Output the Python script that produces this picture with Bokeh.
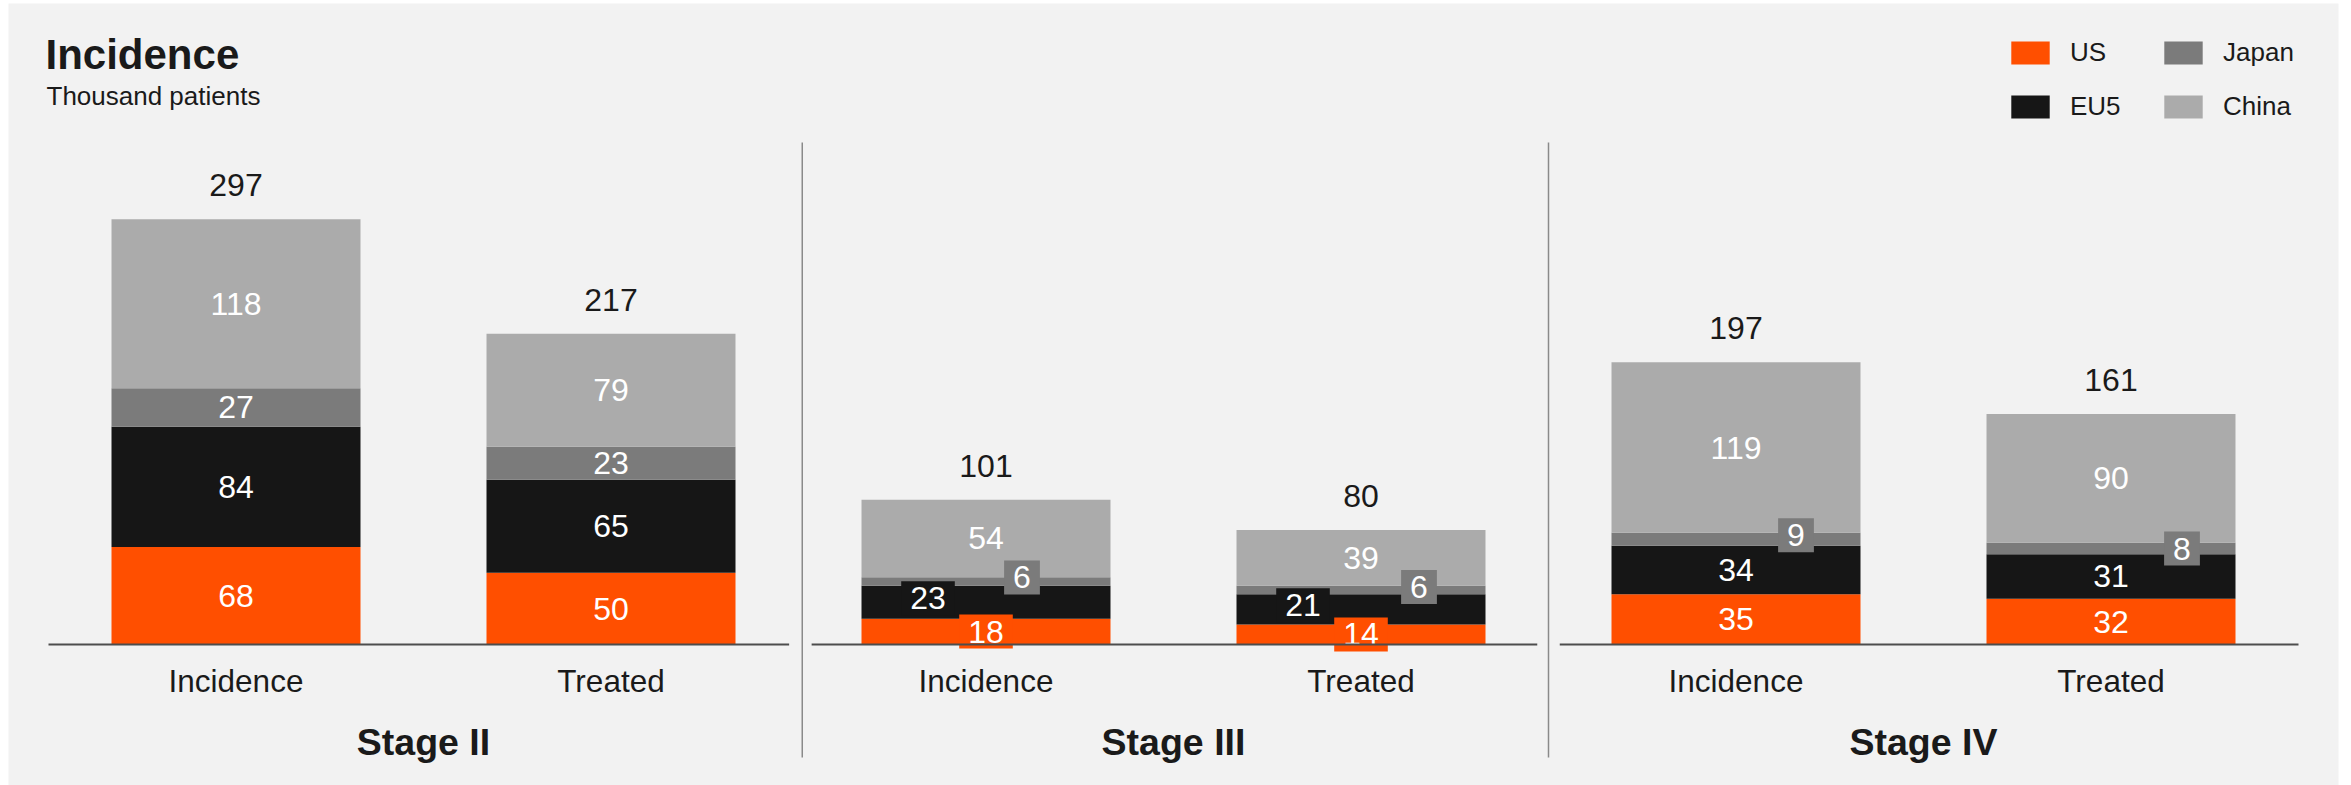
from bokeh.plotting import figure
from bokeh.models import (ColumnDataSource, FactorRange, Range1d, CategoricalAxis,
                          Legend, LegendItem, Label)
from bokeh.core.properties import value
from bokeh.embed import file_html
from bokeh.resources import INLINE

# ---------------- data ----------------
stages = ["Stage II", "Stage III", "Stage IV"]
measures = ["Incidence", "Treated"]
series = ["US", "EU5", "Japan", "China"]
us = [68, 50, 18, 14, 35, 32]
eu5 = [84, 65, 23, 21, 34, 31]
japan = [27, 23, 6, 6, 9, 8]
china = [118, 79, 54, 39, 119, 90]
totals = [297, 217, 101, 80, 197, 161]
title_text = "Incidence"
subtitle_text = "Thousand patients"

# ---------------- style ----------------
colors = {"US": "#FF4F00", "EU5": "#161616", "Japan": "#7B7B7B", "China": "#ABABAB"}
BG = "#F2F2F2"
INK = "#1A1A1A"
FONT = "Liberation Sans"
BOX_BELOW = 20  # segments smaller than this get a boxed label
# label nudges (pixels) for crowded small segments: (bar index, series) -> (dx, dy)
label_nudge = {
    (2, "EU5"): (-58, -4), (3, "EU5"): (-58, -4),
    (2, "Japan"): (36, -4), (3, "Japan"): (58, -3),
    (4, "Japan"): (60, -4), (5, "Japan"): (71, 0),
}

factors = [(s, m) for s in stages for m in measures]
values = {"US": us, "EU5": eu5, "Japan": japan, "China": china}

W, H = 2351, 785
p = figure(width=W, height=H,
           x_range=FactorRange(*factors, factor_padding=0, group_padding=0,
                               range_padding=40 / 375, range_padding_units="absolute"),
           y_range=Range1d(-98.5, 447.6),
           x_axis_location=None, y_axis_location=None,
           toolbar_location=None, tools="", output_backend="svg",
           min_border_left=8, min_border_top=3, min_border_right=13, min_border_bottom=0,
           background_fill_color=BG, border_fill_color="white",
           outline_line_color=None)
p.grid.visible = False

src = ColumnDataSource(dict(x=factors, US=us, EU5=eu5, Japan=japan, China=china))
renderers = p.vbar_stack(series, x="x", width=0.664, source=src,
                         fill_color=[colors[s] for s in series], line_color=None)

# segment labels
lx, ly, lt, lbg, lba, ldx, ldy = [], [], [], [], [], [], []
for i, f in enumerate(factors):
    base = 0
    for s in series:
        v = values[s][i]
        nudged = (i, s) in label_nudge
        lx.append(f)
        ly.append(base + v / 2)
        lt.append(str(v))
        lbg.append(colors[s])
        lba.append(1.0 if (v < BOX_BELOW or nudged) else 0.0)
        dx, dy = label_nudge.get((i, s), (0, 0))
        ldx.append(dx)
        ldy.append(dy)
        base += v
lsrc = ColumnDataSource(dict(x=lx, y=ly, text=lt, bg=lbg, ba=lba, dx=ldx, dy=ldy))
p.text(x="x", y="y", text="text", source=lsrc, x_offset="dx", y_offset="dy",
       text_align="center", text_baseline="middle", text_color="white",
       text_font=value(FONT), text_font_size="32px",
       background_fill_color="bg", background_fill_alpha="ba",
       padding=dict(left=9, right=9, top=6, bottom=6))

# totals
tsrc = ColumnDataSource(dict(x=factors, y=totals, text=[str(t) for t in totals]))
p.text(x="x", y="y", text="text", source=tsrc, y_offset=-34,
       text_align="center", text_baseline="middle", text_color=INK,
       text_font=value(FONT), text_font_size="32px")

# baseline segments per panel and dividers
p.segment(x0=[0, 2.035, 4.03], y0=[0, 0, 0], x1=[1.975, 3.97, 6.0], y1=[0, 0, 0],
          line_color="#4D4D4D", line_width=2)
p.segment(x0=[2.01, 4.0], y0=[350.6, 350.6], x1=[2.01, 4.0], y1=[-78.9, -78.9],
          line_color="#8A8A8A", line_width=1.5)

ax = CategoricalAxis(fixed_location=0, axis_line_color=None,
                     major_tick_line_color=None, major_tick_in=0, major_tick_out=0,
                     major_label_standoff=19,
                     major_label_text_font=FONT, major_label_text_font_size="31.5px",
                     major_label_text_color=INK,
                     group_text_font=FONT, group_text_font_size="37.5px",
                     group_text_font_style="bold", group_text_color=INK)
try:
    ax.separator_line_color = None
except AttributeError:
    pass
p.add_layout(ax, "below")

legend = Legend(items=[LegendItem(label=s, renderers=[r]) for s, r in zip(series, renderers)],
                location=(1998, 663), orientation="vertical", nrows=2,
                glyph_width=48, glyph_height=29, label_standoff=16, label_width=66,
                spacing=23, padding=0, margin=0, border_line_color=None,
                background_fill_alpha=0, label_text_font=FONT,
                label_text_font_size="26px", label_text_color=INK)
p.add_layout(legend)

p.add_layout(Label(x=37, y=731, x_units="screen", y_units="screen", text=title_text,
                   text_font=FONT, text_font_size="42px", text_font_style="bold",
                   text_color=INK, text_baseline="middle"))
p.add_layout(Label(x=38, y=690, x_units="screen", y_units="screen", text=subtitle_text,
                   text_font=FONT, text_font_size="26px",
                   text_color=INK, text_baseline="middle"))

open("out.html", "w").write(file_html(p, INLINE))
